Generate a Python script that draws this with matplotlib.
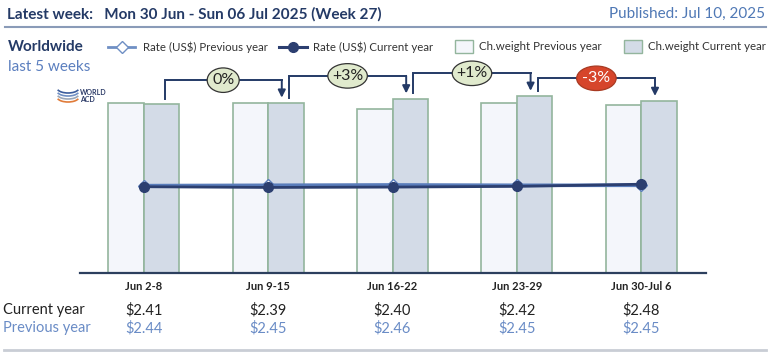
import numpy as np
import matplotlib
matplotlib.use("Agg")
import matplotlib.pyplot as plt
from matplotlib.lines import Line2D
from matplotlib.patches import Rectangle, Arc, Ellipse
from matplotlib.transforms import blended_transform_factory, ScaledTranslation

plt.rcParams['font.family'] = ['Lato', 'DejaVu Sans']

# Data
weeks = ["Jun 2-8", "Jun 9-15", "Jun 16-22", "Jun 23-29", "Jun 30-Jul 6"]
rate_current = [2.41, 2.39, 2.40, 2.42, 2.48]
rate_previous = [2.44, 2.45, 2.46, 2.45, 2.45]
# chargeable weight (thousand tonnes)
weight_previous = [594, 594, 575, 594, 587]
weight_current = [590, 594, 609, 618, 600]
change_labels = ["0%", "+3%", "+1%", "-3%"]

navy = "#243a66"
edge_green = "#93b59d"
fill_prev = "#f4f6fb"
fill_curr = "#d3dbe7"

fig = plt.figure(figsize=(7.7, 3.57), dpi=100)
ax = fig.add_axes([80 / 770, 84 / 357, 626 / 770, 213 / 357])
ax2 = ax.twinx()

x = np.arange(len(weeks))
w = 0.286
ax.bar(x - w / 2, weight_previous, w, color=fill_prev, edgecolor=edge_green, linewidth=1.2)
ax.bar(x + w / 2, weight_current, w, color=fill_curr, edgecolor=edge_green, linewidth=1.2)

ax2.plot(x, rate_previous, color="#5a7dbb", lw=2.6, marker="D", markersize=6,
         markerfacecolor="white", markeredgecolor="#5a7dbb", zorder=2)
ax2.plot(x, rate_current, color="#2c3f70", lw=2, marker="o", markersize=7, zorder=3)

ax.set_xlim(-0.512, 4.52)
wmax = 745.0
ax.set_ylim(0, wmax)
ax2.set_ylim(0, 5.95)
px = wmax / 213  # weight units per pixel

for a in (ax, ax2):
    for s in ("top", "right", "left"):
        a.spines[s].set_visible(False)
    a.set_yticks([])
ax2.spines["bottom"].set_visible(False)
ax.spines["bottom"].set_color("#2c3f5e")
ax.spines["bottom"].set_linewidth(1.6)
ax.set_xticks(x, weeks, fontsize=8, fontweight="bold", color="#222222")
ax.tick_params(axis="x", length=0, pad=6)

# week-over-week change brackets
for i, lab in enumerate(change_labels):
    x0 = x[i] + w / 2 + 0.025
    x1 = x[i + 1] + w / 2 - 0.033
    y0 = weight_current[i] + 5.5 * px
    ytop = max(weight_current[i] + 18 * px, weight_current[i + 1] + 23 * px)
    tip = weight_current[i + 1] + 5.5 * px
    ax.plot([x0, x0, x1], [y0, ytop, ytop], color=navy, lw=1.4, clip_on=False,
            solid_joinstyle="miter")
    ax.annotate("", xy=(x1, tip), xytext=(x1, ytop), annotation_clip=False,
                arrowprops=dict(arrowstyle="-|>", color=navy, lw=1.4,
                                shrinkA=0, shrinkB=0, mutation_scale=11))
    neg = lab.startswith("-")
    xc = (x0 + x1) / 2
    # ellipse sized in pixels, centred on the bracket
    etr = fig.dpi_scale_trans + ScaledTranslation(xc, ytop, ax.transData)
    ell = Ellipse((0, 0), (17 + 7.5 * len(lab)) / 100, 0.245, transform=etr,
                  fc="#d6452b" if neg else "#e0eacd",
                  ec="#a83a22" if neg else "#333333", lw=0.9, zorder=5, clip_on=False)
    ax.add_patch(ell)
    ax.text(xc, ytop, lab, ha="center", va="center", fontsize=11.5,
            color="white" if neg else "#222222", clip_on=False, zorder=6)

# value rows under the chart
tr = blended_transform_factory(ax.transData, fig.transFigure)
fig.text(3 / 770, 1 - 310 / 357, "Current year", fontsize=10.5, color="#222222", va="center")
fig.text(3 / 770, 1 - 328 / 357, "Previous year", fontsize=10.5, color="#6a8cc6", va="center")
for xi, rc, rp in zip(x, rate_current, rate_previous):
    ax.text(xi, 1 - 310 / 357, f"${rc:.2f}", transform=tr, ha="center", va="center",
            fontsize=10.5, color="#222222")
    ax.text(xi, 1 - 328 / 357, f"${rp:.2f}", transform=tr, ha="center", va="center",
            fontsize=10.5, color="#6a8cc6")

# header
fig.text(7 / 770, 1 - 14 / 357, "Latest week:   Mon 30 Jun - Sun 06 Jul 2025 (Week 27)",
         fontsize=11, fontweight="bold", color=navy, va="center")
fig.text(765 / 770, 1 - 14 / 357, "Published: Jul 10, 2025", fontsize=11,
         color="#4f78b5", va="center", ha="right")
fig.add_artist(Line2D([5 / 770, 766 / 770], [1 - 27 / 357] * 2, color="#8a9bb8", lw=1.5))
fig.add_artist(Line2D([4 / 770, 766 / 770], [1 - 350 / 357] * 2, color="#c9cdd5", lw=2))
fig.text(8 / 770, 1 - 47 / 357, "Worldwide", fontsize=11, fontweight="bold",
         color=navy, va="center")
fig.text(8 / 770, 1 - 67 / 357, "last 5 weeks", fontsize=11, color="#5b7fbf", va="center")

# legend
ly = 1 - 47 / 357
fig.add_artist(Line2D([108 / 770, 135 / 770], [ly, ly], color="#6f8fc4", lw=2))
fig.add_artist(Line2D([121.5 / 770], [ly], color="#6f8fc4", marker="D", markersize=6,
                      markerfacecolor="white", linestyle="none"))
fig.text(143 / 770, ly, "Rate (US$) Previous year", fontsize=8.3, color="#333333", va="center")
fig.add_artist(Line2D([279 / 770, 307 / 770], [ly, ly], color="#2c3f70", lw=2.2))
fig.add_artist(Line2D([293 / 770], [ly], color="#2c3f70", marker="o", markersize=7,
                      linestyle="none"))
fig.text(313 / 770, ly, "Rate (US$) Current year", fontsize=8.3, color="#333333", va="center")
fig.add_artist(Rectangle((455 / 770, 1 - 53 / 357), 18 / 770, 13 / 357,
                         fc=fill_prev, ec=edge_green, lw=1))
fig.text(479 / 770, ly, "Ch.weight Previous year", fontsize=8.3, color="#333333", va="center")
fig.add_artist(Rectangle((624 / 770, 1 - 53 / 357), 18 / 770, 13 / 357,
                         fc=fill_curr, ec=edge_green, lw=1))
fig.text(648 / 770, ly, "Ch.weight Current year", fontsize=8.3, color="#333333", va="center")

# logo
for k, c in enumerate(["#3b5c9c", "#6f8fc4", "#9aa6b8", "#e07b39"]):
    fig.add_artist(Arc((68 / 770, 1 - (88 + 3 * k) / 357), 22 / 770, 10 / 357,
                       theta1=200, theta2=340, color=c, lw=1.2))
fig.text(80 / 770, 1 - 96 / 357, "WORLD\nACD", fontsize=5, fontweight="bold",
         color="#2b3a67", va="center", linespacing=0.9)

fig.savefig("out.png", dpi=100)
